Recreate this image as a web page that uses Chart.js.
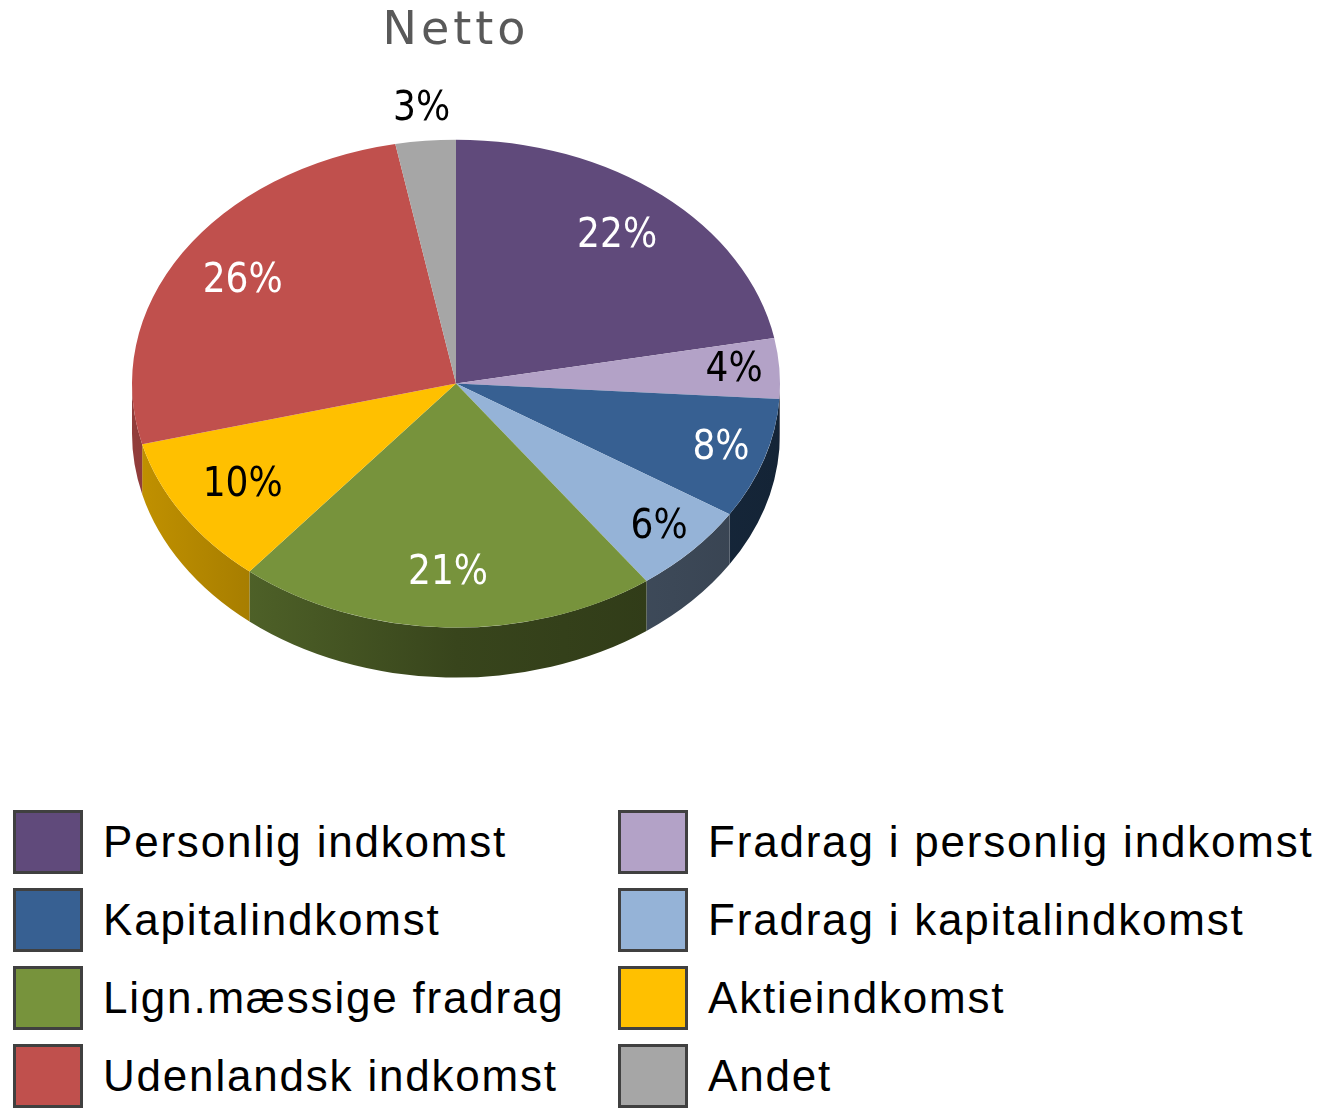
<!DOCTYPE html>
<html>
<head>
<meta charset="utf-8">
<title>Netto</title>
<script src="https://cdn.jsdelivr.net/npm/chart.js@4/dist/chart.umd.min.js"></script>
<style>
  html, body { margin: 0; padding: 0; background: #fff; overflow: hidden; }
  #wrap { position: absolute; left: 0; top: 0; width: 912px; height: 760px; }
  #legend {
    position: absolute; left: 13px; top: 803px;
    display: grid; grid-template-columns: 605px auto;
    font-family: "Liberation Sans", Arial, sans-serif; font-size: 44px;
    letter-spacing: 1.8px; color: #000;
  }
  #legend .item { display: flex; align-items: center; height: 78px; white-space: nowrap; }
  #legend .box {
    width: 70px; height: 64px; box-sizing: border-box;
    border: 3px solid #404040; margin-right: 20px; flex: none;
  }
</style>
</head>
<body>
<div id="wrap"><canvas id="pie"></canvas></div>
<div id="legend"></div>
<script>
const categories = [
  'Personlig indkomst', 'Fradrag i personlig indkomst',
  'Kapitalindkomst', 'Fradrag i kapitalindkomst',
  'Lign.mæssige fradrag', 'Aktieindkomst',
  'Udenlandsk indkomst', 'Andet'
];
const shares = [22, 4, 8, 6, 21, 10, 26, 3];
const sliceColors = ['#604a7b', '#b3a2c7', '#376092', '#95b3d7', '#77933c', '#ffc000', '#c0504d', '#a6a6a6'];
const labelInk = ['#fff', '#000', '#fff', '#000', '#fff', '#000', '#fff', '#000'];

const TILT = 0.753;   // vertical squash of the pie
const DEPTH = 50;     // thickness of the side wall

function shade(hex, f) {
  const n = parseInt(hex.slice(1), 16);
  const r = Math.round(((n >> 16) & 255) * f);
  const g = Math.round(((n >> 8) & 255) * f);
  const b = Math.round((n & 255) * f);
  return `rgb(${r},${g},${b})`;
}

// squashes the pie and adds a 3d-ish side wall
const tiltPlugin = {
  id: 'tilt',
  beforeDraw(chart) {
    chart.ctx.letterSpacing = '4px';
  },
  beforeDatasetsDraw(chart) {
    const ctx = chart.ctx;
    ctx.letterSpacing = '0px';
    const arcs = chart.getDatasetMeta(0).data;
    arcs.forEach((arc, i) => {
      const a0 = Math.max(arc.startAngle, 0);
      const a1 = Math.min(arc.endAngle, Math.PI);
      if (a1 <= a0) return;
      const rx = arc.outerRadius, ry = rx * TILT;
      const col = sliceColors[i];
      const grad = ctx.createLinearGradient(arc.x - rx, 0, arc.x + rx, 0);
      grad.addColorStop(0, shade(col, 0.76));
      grad.addColorStop(0.5, shade(col, 0.47));
      grad.addColorStop(1, shade(col, 0.37));
      ctx.fillStyle = grad;
      ctx.beginPath();
      ctx.ellipse(arc.x, arc.y, rx, ry, 0, a0, a1);
      ctx.ellipse(arc.x, arc.y + DEPTH, rx, ry, 0, a1, a0, true);
      ctx.closePath();
      ctx.fill();
    });
    const c = arcs[0];
    ctx.save();
    ctx.translate(c.x, c.y);
    ctx.scale(1, TILT);
    ctx.translate(-c.x, -c.y);
  },
  afterDatasetsDraw(chart) {
    const ctx = chart.ctx;
    ctx.restore();
    const arcs = chart.getDatasetMeta(0).data;
    ctx.save();
    ctx.font = '40px "Liberation Sans Narrow", "DejaVu Sans Condensed", sans-serif';
    ctx.textAlign = 'center';
    ctx.textBaseline = 'middle';
    arcs.forEach((arc, i) => {
      const v = shares[i];
      const mid = (arc.startAngle + arc.endAngle) / 2;
      const f = v < 4 ? 1.13 : (v < 10 ? 0.86 : 0.78);
      const r = arc.outerRadius * f;
      const x = arc.x + Math.cos(mid) * r;
      const y = arc.y + Math.sin(mid) * r * TILT;
      ctx.fillStyle = labelInk[i];
      ctx.fillText(v + '%', x, y);
    });
    ctx.restore();
  }
};

const chart = new Chart(document.getElementById('pie'), {
  type: 'pie',
  data: {
    labels: categories,
    datasets: [{
      data: shares,
      backgroundColor: sliceColors,
      borderWidth: 0
    }]
  },
  options: {
    responsive: true,
    maintainAspectRatio: false,
    animation: false,
    events: [],
    layout: { padding: { left: 132, right: 132, top: 0, bottom: 52 } },
    plugins: {
      legend: { display: false },
      tooltip: { enabled: false },
      title: {
        display: true,
        text: 'Netto',
        color: '#595959',
        font: { family: '"DejaVu Sans", Verdana, sans-serif', size: 46, weight: 'normal', lineHeight: 1.2 },
        padding: { top: 4, bottom: 0 }
      }
    }
  },
  plugins: [tiltPlugin]
});

// html legend, two columns
const items = chart.options.plugins.legend.labels.generateLabels(chart);
document.getElementById('legend').innerHTML = items.map(it =>
  `<div class="item"><span class="box" style="background:${it.fillStyle}"></span>${it.text}</div>`
).join('');
</script>
</body>
</html>
